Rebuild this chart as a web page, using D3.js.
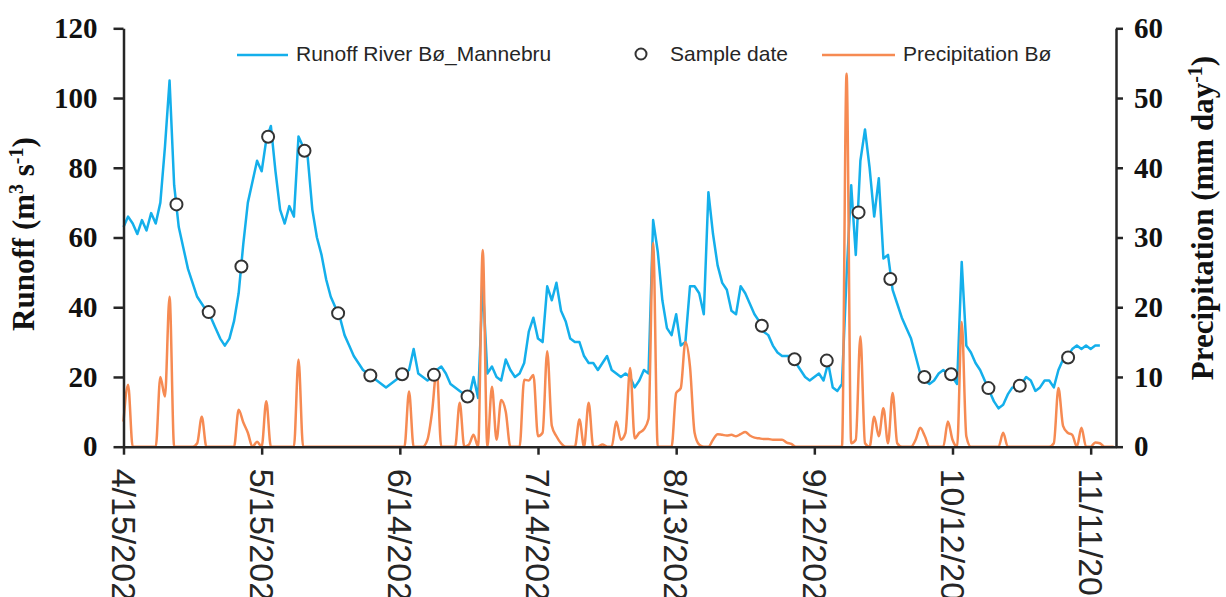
<!DOCTYPE html>
<html>
<head>
<meta charset="utf-8">
<script src="https://cdn.jsdelivr.net/npm/d3@7"></script>
<style>
  html, body { margin: 0; padding: 0; background: #fff; }
  svg { display: block; }
</style>
</head>
<body>
<svg id="chart" width="1226" height="597"></svg>
<script>
// ---- Data (day index from 4/15) ----
const runoff = [
  63,66,64,61,65,62,67,64,70,86,        // d0-9
  105,75,63,57,51,47,43,41,39,37,       // d10-19
  34,31,29,31,36,44,58,70,76,82,        // d20-29
  79,88,92,79,68,64,69,66,89,86,        // d30-39
  83,68,60,55,48,43,40,37,32,29,        // d40-49
  26,24,22,21,20,19,18,17,18,19,        // d50-59
  20,21,22,28,21,20,19,20,22,23,        // d60-69
  21,18,17,16,15,14,20,14,47,21,        // d70-79
  23,20,19,25,22,20,21,24,33,37,        // d80-89
  31,30,46,42,47,39,36,31,30,30,        // d90-99
  26,24,24,22,24,26,22,21,20,21,        // d100-109
  20,17,19,22,21,65,56,42,34,32,        // d110-119
  38,29,30,46,46,44,38,73,61,52,        // d120-129
  47,45,39,38,46,44,41,38,36,33,        // d130-139
  32,29,27,26,26,26,24,22,20,19,        // d140-149
  20,21,19,24,17,16,18,49,75,55,        // d150-159
  82,91,80,66,77,54,55,45,41,37,        // d160-169
  34,31,26,21,19,18,19,21,22,21,        // d170-179
  20,18,53,29,27,24,22,19,16,13,        // d180-189
  11,12,15,17,17,18,20,19,16,17,        // d190-199
  19,19,17,22,25,26,28,29,28,29,        // d200-209
  28,29,29                              // d210-212
];
const precipitation = [
  3.6,8.9,0,0,0,0,0,0,10,7.2,
  21.5,0,0,0,0,0,0.5,4.3,0,0,
  0,0,0,0,0,5.3,3.5,2,0,0.7,
  0,6.5,0,0,0,0,0,0,12.5,0,
  0,0,0,0,0,0,0,0,0,0,
  0,0,0,0,0,0,0,0,0,0,
  0,0,7.9,0,0,0,1,5,11,0,
  0,0,0,6.3,0,0.3,1.7,0,28.2,0,
  8.6,1,6.7,5,0,0,0,9.6,9.5,10.3,
  1.5,2,13.7,3,1.5,0.5,0,0,0,3.9,
  0,6.3,0,0,0.3,0,0,3.6,1,2,
  11.3,1.2,2,2.5,4,29.2,0,0,0,0,
  7.7,8.4,15,11.5,2,0.3,0,0,1,1.8,
  1.7,1.6,1.7,1.5,1.8,2.1,1.6,1.3,1.2,1.1,
  1.1,1,1,1,0.6,0.4,0,0,0,0,
  0,0,0,0,0,0,0,53.5,0.5,1,
  15.8,0.5,0,4.3,1.5,5.5,0.5,7.7,0.5,0,
  0,0,1,2.7,1.5,0,0,0,0,3.6,
  1,0,17.9,1.5,0,0,0,0,0,0,
  0,2,0,0,0,0,0,0,0,0,
  0,0,0.5,8.4,3,2,1.7,0,2.7,0,
  0,0.6,0.5,0,0,0
];
const sampleDays   = [11.5,18.5,25.6,31.4,39.3,46.6,53.6,60.5,67.4,74.7,138.6,145.7,152.7,159.6,166.5,173.9,179.7,187.8,194.6,205.1];
const sampleValues = [69.5,38.6,51.7,88.9,84.9,38.3,20.4,20.8,20.6,14.4,34.7,25.1,24.7,67.2,48.1,20.0,20.8,16.8,17.5,25.6];
const xTickDays   = [0,30,60,90,120,150,180,210];
const xTickLabels = ["4/15/2021","5/15/2021","6/14/2021","7/14/2021","8/13/2021","9/12/2021","10/12/2021","11/11/2021"];
const leftTicks  = [0,20,40,60,80,100,120];
const rightTicks = [0,10,20,30,40,50,60];
const legendLabels = ["Runoff River Bø_Mannebru","Sample date","Precipitation Bø"];

// ---- Layout ----
const BLUE = "#14AFEB", ORANGE = "#F68A52", AXIS = "#262626";
const svg = d3.select("#chart");
const x  = d3.scaleLinear().domain([0, 215.5]).range([123.5, 1116]);
const yL = d3.scaleLinear().domain([0, 120]).range([446.7, 28.3]);
const yR = d3.scaleLinear().domain([0, 60]).range([446.7, 28.3]);

// lines
const runLine = d3.line().x((d,i)=>x(i)).y(d=>yL(d));
svg.append("path").datum(runoff).attr("d", runLine)
  .attr("fill","none").attr("stroke",BLUE).attr("stroke-width",2.5).attr("stroke-linejoin","round");

const preLine = d3.line().x((d,i)=>x(i)).y(d=>yR(d)).curve(d3.curveMonotoneX);
svg.append("path").datum(precipitation).attr("d", preLine)
  .attr("fill","none").attr("stroke",ORANGE).attr("stroke-width",2.5).attr("stroke-linejoin","round");

// axes
function styleAxis(g){
  g.select(".domain").attr("stroke",AXIS).attr("stroke-width",2.5);
  g.selectAll(".tick line").attr("stroke",AXIS).attr("stroke-width",2.5);
}
const gL = svg.append("g").attr("transform","translate(123.5,0)")
  .call(d3.axisLeft(yL).tickValues(leftTicks).tickSize(10).tickSizeOuter(0).tickPadding(16));
styleAxis(gL);
gL.selectAll(".tick text").attr("font-family","'Liberation Serif', serif").attr("font-weight","bold")
  .attr("font-size","29px").attr("fill","#111");

const gR = svg.append("g").attr("transform","translate(1116,0)")
  .call(d3.axisRight(yR).tickValues(rightTicks).tickSize(7).tickSizeOuter(0).tickPadding(11));
styleAxis(gR);
gR.selectAll(".tick text").attr("font-family","'Liberation Serif', serif").attr("font-weight","bold")
  .attr("font-size","29px").attr("fill","#111");

const gB = svg.append("g").attr("transform","translate(0,446.7)")
  .call(d3.axisBottom(x).tickValues(xTickDays).tickSize(8).tickSizeOuter(0)
    .tickFormat((d,i)=>xTickLabels[i]));
styleAxis(gB);
gB.selectAll(".tick text")
  .attr("font-family","'Liberation Sans', sans-serif").attr("font-size","34px").attr("fill","#262626")
  .attr("x",0).attr("y",0).attr("dy","0.36em")
  .attr("transform","translate(0,22) rotate(90)")
  .style("text-anchor","start");

// sample points
svg.append("g").selectAll("circle").data(sampleDays).join("circle")
  .attr("cx",d=>x(d)).attr("cy",(d,i)=>yL(sampleValues[i])).attr("r",6)
  .attr("fill","#fff").attr("stroke","#333").attr("stroke-width",2);

// axis titles
const lt = svg.append("text").attr("transform","translate(34,234) rotate(-90)")
  .attr("text-anchor","middle").attr("font-family","'Liberation Serif', serif")
  .attr("font-weight","bold").attr("font-size","31px").attr("fill","#111");
lt.append("tspan").text("Runoff (m");
lt.append("tspan").text("3").attr("font-size","20px").attr("dy","-11");
lt.append("tspan").text(" s").attr("dy","11");
lt.append("tspan").text("-1").attr("font-size","20px").attr("dy","-11");
lt.append("tspan").text(")").attr("dy","11");

const rt = svg.append("text").attr("transform","translate(1213,218) rotate(-90)")
  .attr("text-anchor","middle").attr("font-family","'Liberation Serif', serif")
  .attr("font-weight","bold").attr("font-size","31px").attr("fill","#111");
rt.append("tspan").text("Precipitation (mm day");
rt.append("tspan").text("-1").attr("font-size","20px").attr("dy","-11");
rt.append("tspan").text(")").attr("dy","11");

// legend
const lg = svg.append("g").attr("font-family","'Liberation Sans', sans-serif").attr("font-size","21px").attr("fill","#262626");
lg.append("line").attr("x1",237).attr("x2",288).attr("y1",55).attr("y2",55).attr("stroke",BLUE).attr("stroke-width",2.5);
lg.append("text").attr("x",296).attr("y",61).text(legendLabels[0]);
lg.append("circle").attr("cx",641).attr("cy",54).attr("r",5.5).attr("fill","#fff").attr("stroke","#333").attr("stroke-width",2);
lg.append("text").attr("x",670).attr("y",61).text(legendLabels[1]);
lg.append("line").attr("x1",822).attr("x2",895).attr("y1",55).attr("y2",55).attr("stroke",ORANGE).attr("stroke-width",2.5);
lg.append("text").attr("x",903).attr("y",61).text(legendLabels[2]);
</script>
</body>
</html>
